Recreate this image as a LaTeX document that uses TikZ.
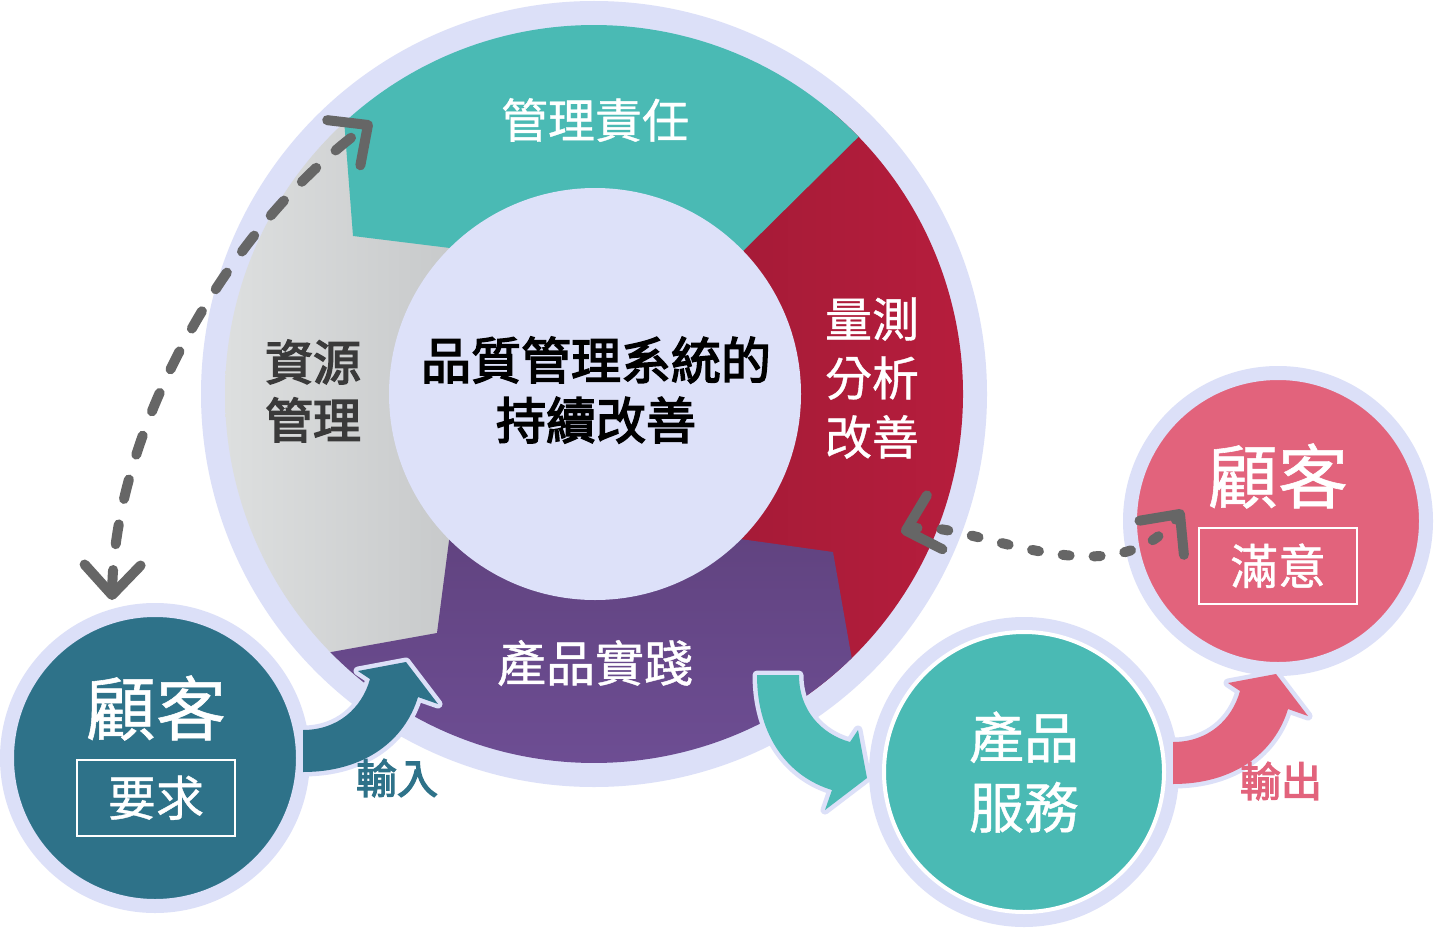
\documentclass[tikz,border=0pt]{standalone}
\usepackage{fontspec}
\setmainfont{Noto Sans CJK TC}
\newfontfamily\cjkmed{Noto Sans CJK TC}[FakeBold=0.8]
\newfontfamily\cjkheavy{Noto Sans CJK TC}[FakeBold=3]
\usetikzlibrary{positioning,arrows.meta}

\definecolor{lav}{HTML}{DCE0F8}
\definecolor{lavin}{HTML}{DDE1F9}
\definecolor{tealc}{HTML}{4ABAB4}
\definecolor{crimson}{HTML}{B71D3D}
\definecolor{crimdark}{HTML}{9C1A34}
\definecolor{plum}{HTML}{6F4F96}
\definecolor{plumdark}{HTML}{614380}
\definecolor{greylt}{HTML}{DDDFDF}
\definecolor{greydk}{HTML}{BABCBE}
\definecolor{petrol}{HTML}{2E7289}
\definecolor{rose}{HTML}{E2637C}
\definecolor{dashgrey}{HTML}{666666}
\definecolor{inktxt}{HTML}{3A3A3A}

\tikzset{flowarrow/.pic={
  \path[preaction={draw=lav,line width=9pt,line join=round},pic actions]
    (0,21) .. controls (62,21) and (102,-11) .. (115,-54) -- (135,-47) -- (103,-89)
    -- (55,-80) -- (67,-72) .. controls (59,-43) and (35,-21) .. (0,-21) -- cycle;
}}

\begin{document}
\begin{tikzpicture}[x=1pt,y=-1pt]
\tikzstyle{ringtxt}=[text=white,align=center,inner sep=0pt,font=\cjkmed\fontsize{47}{59}\selectfont]
\tikzstyle{custcirc}=[circle,inner sep=0pt,minimum size=296pt,draw=lav,line width=14pt]
\tikzstyle{custtitle}=[text=white,inner sep=0pt,font=\cjkmed\fontsize{70}{80}\selectfont]
\tikzstyle{custbox}=[draw=white,line width=2pt,text=white,minimum width=158pt,minimum height=76pt,inner sep=0pt,font=\cjkmed\fontsize{48}{56}\selectfont]
\tikzstyle{flowlbl}=[inner sep=0pt,font=\cjkheavy\fontsize{41}{48}\selectfont]
\tikzstyle{dasharr}=[draw=dashgrey,line width=10pt,line cap=round,>={Straight Barb[length=30pt,width=56pt,round]},<->]

\path[use as bounding box,fill=white] (0,0) rectangle (1434,931);

\coordinate (c) at (594,394);
\fill[lav] (c) circle (393);
\shade[left color=greylt,right color=greydk] (c) -- +(120:369) arc[start angle=120,end angle=228,radius=369] -- cycle;
\shade[left color=crimdark,right color=crimson] (c) -- +(-50:369) arc[start angle=-50,end angle=60,radius=369] -- cycle;
\shade[top color=plumdark,bottom color=plum] ([shift={(45.7:369)}]c) arc[start angle=45.7,end angle=135.6,radius=369]
  -- (437,633) -- (450,533) -- (733,538) -- (833,552) -- cycle;
\fill[tealc] ([shift={(-132.6:369)}]c) arc[start angle=-132.6,end angle=-44.2,radius=369]
  -- (739,255) -- (458,249) -- (353,236) -- cycle;
\fill[lavin] (595,394) circle (206);

\node[ringtxt] (resp) at (595,120) {管理責任};
\node[ringtxt,text=inktxt,font=\cjkheavy\fontsize{48}{58}\selectfont] (res) at (313,391) {資源\\管理};
\node[ringtxt] (meas) at (872,378) {量測\\分析\\改善};
\node[ringtxt,font=\cjkmed\fontsize{49}{59}\selectfont] (prac) at (595,663) {產品實踐};
\node[ringtxt,text=black,font=\cjkheavy\fontsize{50}{60}\selectfont] (qms) at (596,390) {品質管理系統的\\持續改善};

\node[custcirc,fill=petrol] (cin) at (155,758) {};
\node[custtitle] (cintit) at (156,708) {顧客};
\node[custbox,below=18pt of cintit] (cinreq) {要求};

\node[custcirc,fill=rose] (cout) at (1278,521) {};
\node[custtitle] (couttit) at (1278,476) {顧客};
\node[custbox,below=18pt of couttit] (coutsat) {滿意};

\node[circle,inner sep=0pt,minimum size=280pt,fill=tealc,draw=white,line width=4pt,preaction={draw=lav,line width=30pt},
  text=white,align=center,font=\cjkmed\fontsize{55}{70}\selectfont] (prod) at (1024,772) {產品\\服務};

\pic[fill=petrol] at (303,751) {flowarrow};
\pic[fill=tealc,rotate=-90] at (778,675) {flowarrow};
\pic[fill=rose] at (1173,763) {flowarrow};

\coordinate (reqtip) at (112,600);
\coordinate (resptip) at (372,122);
\draw[dasharr,dash pattern=on 20pt off 26pt] (reqtip) .. controls (115,430) and (225,230) .. (resptip);
\coordinate (meastip) at (901,532);
\coordinate (sattip) at (1183,510);
\draw[dasharr,dash pattern=on 7pt off 24pt] (meastip) .. controls (960,515) and (1110,605) .. (sattip);

\node[flowlbl,text=petrol] (inlbl) at (397,778) {輸入};
\node[flowlbl,text=rose] (outlbl) at (1281,781) {輸出};
\end{tikzpicture}
\end{document}
